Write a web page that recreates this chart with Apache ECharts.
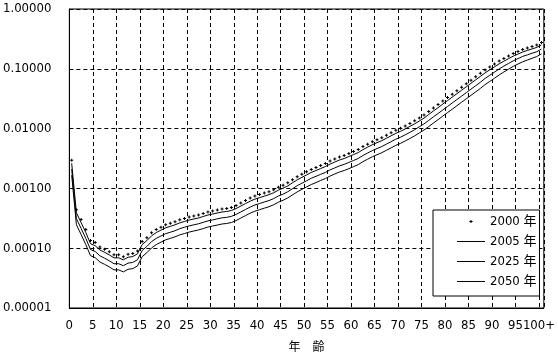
<!DOCTYPE html>
<html><head><meta charset="utf-8">
<script src="https://cdn.jsdelivr.net/npm/echarts@6/dist/echarts.min.js"></script>
<style>html,body{margin:0;padding:0;background:#fff}#c{width:558px;height:357px}</style>
</head><body><div id="c"></div>
<script>
const ages = [];
for (let i = 0; i <= 100; i++) ages.push(i === 100 ? '100+' : String(i));
const yTicks = ['0.00001','0.00010','0.00100','0.01000','0.10000','1.00000'];
const seriesNames = ['2000 年','2005 年','2025 年','2050 年'];

const y2000 = [0.00296,0.000441,0.000301,0.000206,0.000134,0.000124,0.000105,0.0000959,0.0000869,0.0000775,0.0000775,0.0000718,0.0000793,0.0000815,0.0000902,0.000129,0.000150,0.000181,0.000206,0.000225,0.000246,0.000261,0.000276,0.000298,0.000315,0.000333,0.000346,0.000360,0.000381,0.000403,0.000419,0.000436,0.000453,0.000462,0.000480,0.000518,0.000569,0.000626,0.000688,0.000743,0.000787,0.000834,0.000882,0.000951,0.00105,0.00113,0.00124,0.00139,0.00156,0.00172,0.00189,0.00208,0.00224,0.00242,0.00261,0.00287,0.00310,0.00335,0.00355,0.00383,0.00413,0.00446,0.00500,0.00550,0.00604,0.00653,0.00705,0.00775,0.00852,0.00937,0.0101,0.0111,0.0122,0.0135,0.0151,0.0169,0.0193,0.0221,0.0252,0.0289,0.0330,0.0377,0.0431,0.0492,0.0562,0.0643,0.0734,0.0839,0.0959,0.107,0.120,0.135,0.149,0.164,0.180,0.194,0.210,0.222,0.235,0.249,0.274];
const y2005 = [0.00263,0.000392,0.000268,0.000183,0.000119,0.000110,0.0000935,0.0000854,0.0000773,0.0000690,0.0000690,0.0000639,0.0000706,0.0000725,0.0000803,0.000115,0.000134,0.000161,0.000183,0.000200,0.000219,0.000232,0.000246,0.000265,0.000280,0.000296,0.000308,0.000320,0.000339,0.000359,0.000373,0.000388,0.000403,0.000411,0.000427,0.000461,0.000506,0.000557,0.000612,0.000661,0.000700,0.000742,0.000785,0.000846,0.000935,0.00101,0.00110,0.00124,0.00139,0.00153,0.00168,0.00185,0.00199,0.00215,0.00232,0.00255,0.00276,0.00298,0.00316,0.00341,0.00368,0.00397,0.00445,0.00490,0.00538,0.00581,0.00627,0.00690,0.00758,0.00834,0.00899,0.00988,0.0109,0.0120,0.0134,0.0150,0.0172,0.0197,0.0224,0.0257,0.0294,0.0336,0.0384,0.0438,0.0500,0.0572,0.0653,0.0747,0.0854,0.0960,0.108,0.121,0.134,0.148,0.163,0.176,0.191,0.203,0.215,0.228,0.251];
const y2025 = [0.00210,0.000313,0.000214,0.000146,0.0000951,0.0000880,0.0000746,0.0000681,0.0000617,0.0000550,0.0000550,0.0000510,0.0000563,0.0000579,0.0000640,0.0000916,0.000107,0.000129,0.000146,0.000160,0.000175,0.000185,0.000196,0.000212,0.000224,0.000236,0.000246,0.000256,0.000271,0.000286,0.000297,0.000310,0.000322,0.000328,0.000341,0.000368,0.000404,0.000444,0.000488,0.000528,0.000559,0.000592,0.000626,0.000675,0.000746,0.000802,0.000880,0.000987,0.00111,0.00122,0.00134,0.00148,0.00159,0.00172,0.00185,0.00204,0.00220,0.00238,0.00252,0.00272,0.00293,0.00317,0.00355,0.00391,0.00429,0.00464,0.00501,0.00550,0.00605,0.00665,0.00717,0.00788,0.00866,0.00959,0.0107,0.0120,0.0137,0.0157,0.0179,0.0205,0.0234,0.0268,0.0306,0.0349,0.0399,0.0457,0.0521,0.0596,0.0690,0.0780,0.0880,0.0995,0.111,0.123,0.136,0.148,0.161,0.171,0.182,0.193,0.214];
const y2050 = [0.00166,0.000247,0.000169,0.000115,0.0000750,0.0000694,0.0000588,0.0000537,0.0000487,0.0000434,0.0000434,0.0000402,0.0000444,0.0000456,0.0000505,0.0000722,0.0000840,0.000101,0.000115,0.000126,0.000138,0.000146,0.000155,0.000167,0.000176,0.000186,0.000194,0.000202,0.000213,0.000226,0.000235,0.000244,0.000254,0.000259,0.000269,0.000290,0.000319,0.000351,0.000385,0.000416,0.000441,0.000467,0.000494,0.000533,0.000588,0.000633,0.000694,0.000778,0.000874,0.000963,0.00106,0.00116,0.00125,0.00136,0.00146,0.00161,0.00174,0.00188,0.00199,0.00214,0.00231,0.00250,0.00280,0.00308,0.00338,0.00366,0.00395,0.00434,0.00477,0.00525,0.00566,0.00622,0.00683,0.00756,0.00846,0.00946,0.0108,0.0124,0.0141,0.0162,0.0185,0.0211,0.0241,0.0276,0.0315,0.0360,0.0411,0.0470,0.0545,0.0615,0.0695,0.0790,0.0885,0.0985,0.110,0.120,0.131,0.140,0.150,0.160,0.178];

const FONT = "'DejaVu Sans Condensed', 'DejaVu Sans', 'Noto Sans CJK JP', sans-serif";
const chart = echarts.init(document.getElementById('c'), null, {renderer: 'canvas'});
const dash = {color: '#000', width: 1, type: [4, 3]};
const plus = 'path://M1,0H2V1H3V2H2V3H1V2H0V1H1Z';

chart.setOption({
  animation: false,
  backgroundColor: '#fff',
  grid: {left: 68, right: 13, top: 9, bottom: 46, show: true, borderColor: '#000', borderWidth: 1, backgroundColor: 'transparent'},
  xAxis: {
    type: 'category', data: ages, boundaryGap: true,
    name: '年　齢', nameLocation: 'middle', nameGap: 32,
    nameTextStyle: {fontFamily: "'Noto Sans CJK JP'", fontSize: 12, color: '#000'},
    axisLine: {show: true, lineStyle: {color: '#000', width: 1}},
    axisTick: {show: false, interval: 4},
    axisLabel: {interval: 4, margin: 11, color: '#000', fontSize: 13, fontFamily: FONT, padding: [0, 5, 0, 0]},
    splitLine: {show: true, interval: 4, lineStyle: dash}
  },
  yAxis: {
    type: 'log', logBase: 10, min: 0.00001, max: 1,
    axisLine: {show: true, lineStyle: {color: '#000', width: 1}},
    axisTick: {show: false},
    axisLabel: {margin: 18, color: '#000', fontSize: 13, fontFamily: FONT,
      formatter: function (v) { const i = Math.round(Math.log10(v)) + 5; return yTicks[i] !== undefined ? yTicks[i] : ''; }},
    splitLine: {show: true, lineStyle: dash}
  },
  legend: {
    orient: 'vertical', left: 433, top: 210,
    padding: [5, 3, 8, 23], itemGap: 7, itemWidth: 28, itemHeight: 4,
    backgroundColor: '#fff', borderColor: '#000', borderWidth: 1, borderRadius: 0,
    textStyle: {fontFamily: FONT, fontSize: 13, color: '#000'},
    data: [
      {name: seriesNames[0], lineStyle: {opacity: 0}},
      {name: seriesNames[1], itemStyle: {opacity: 0}, lineStyle: {width: 1}},
      {name: seriesNames[2], itemStyle: {opacity: 0}, lineStyle: {width: 1}},
      {name: seriesNames[3], itemStyle: {opacity: 0}, lineStyle: {width: 1}}
    ]
  },
  series: [
    {name: seriesNames[0], type: 'line', data: y2000, symbol: plus, symbolSize: 3, showSymbol: true,
     itemStyle: {color: '#000'}, lineStyle: {opacity: 0, width: 1, color: '#000'}, z: 5},
    {name: seriesNames[1], type: 'line', data: y2005, symbol: 'none', showSymbol: false,
     itemStyle: {color: '#000'}, lineStyle: {color: '#000', width: 1}},
    {name: seriesNames[2], type: 'line', data: y2025, symbol: 'none', showSymbol: false,
     itemStyle: {color: '#000'}, lineStyle: {color: '#000', width: 1}},
    {name: seriesNames[3], type: 'line', data: y2050, symbol: 'none', showSymbol: false,
     itemStyle: {color: '#000'}, lineStyle: {color: '#000', width: 1}}
  ]
});
</script></body></html>
